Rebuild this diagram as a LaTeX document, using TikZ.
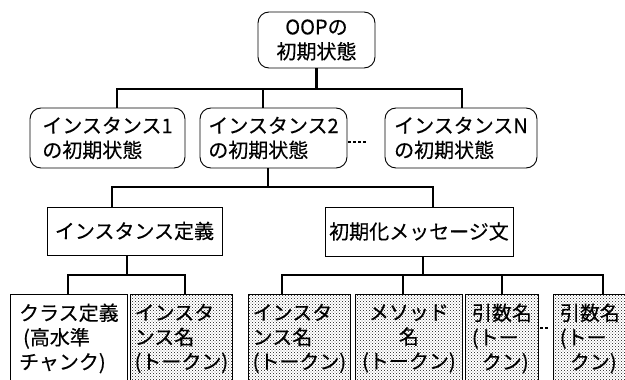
\documentclass[tikz,border=0pt]{standalone}
\usepackage{fontspec}
\newfontfamily\jpfont[FakeBold=0.3]{Noto Sans CJK JP}
\usetikzlibrary{patterns}
\pgfdeclarepatternformonly{finedots}{\pgfqpoint{-0.5pt}{-0.5pt}}{\pgfqpoint{3.5pt}{3.5pt}}{\pgfqpoint{3pt}{3pt}}{%
  \pgfpathrectangle{\pgfqpoint{0pt}{0pt}}{\pgfqpoint{0.9pt}{0.9pt}}%
  \pgfpathrectangle{\pgfqpoint{1.5pt}{1.5pt}}{\pgfqpoint{0.9pt}{0.9pt}}%
  \pgfusepath{fill}%
}
\begin{document}
\begin{tikzpicture}[x=1pt,y=-1pt,
  txt/.style={font=\jpfont\fontsize{20}{24.5}\selectfont, inner sep=0pt},
  rbox/.style={txt, draw, line width=0.9pt, rounded corners=11pt, align=left},
  sbox/.style={txt, draw, line width=0.9pt, align=center},
  leaf/.style={txt, draw, line width=0.8pt, minimum height=88pt, anchor=north west},
  stipleaf/.style={leaf, pattern=finedots, pattern color=black!75},
  conn/.style={line width=2.5pt, line join=miter},
  ellip/.style={line width=2.6pt, dash pattern=on 2.5pt off 2.5pt}]
\useasboundingbox (0,0) rectangle (625,380);
\clip (0,0) rectangle (625,380);

% level 1
\node[rbox, minimum width=117pt, minimum height=56pt, align=center] (top) at (316.5,40) {OOPの\\初期状態};
% level 2
\node[rbox, minimum width=155pt, minimum height=60pt] (i1) at (107.5,138) {インスタンス1\\の初期状態};
\node[rbox, minimum width=147pt, minimum height=60pt] (i2) at (273.5,138) {インスタンス2\\の初期状態};
\node[rbox, minimum width=152pt, minimum height=60pt] (iN) at (461,138) {インスタンスN\\の初期状態};
% level 3
\node[sbox, minimum width=175pt, minimum height=48pt] (def) at (134.5,231) {インスタンス定義};
\node[sbox, minimum width=188pt, minimum height=49pt] (msg) at (419,231.5) {初期化メッセージ文};
% level 4
\node[leaf, minimum width=117pt, align=left] (cls) at (10,294) {クラス定義\\\hspace{4pt}(高水準\\チャンク)};
\node[stipleaf, minimum width=102pt, align=left] (inm1) at (130,294) {インスタ\\ンス名\\(トークン)};
\node[stipleaf, minimum width=102pt, align=left] (inm2) at (248,294) {インスタ\\ンス名\\(トークン)};
\node[stipleaf, minimum width=107pt, align=center] (mth) at (355,294) {メソッド\\名\\(トークン)};
\node[stipleaf, minimum width=73pt, align=left] (arg1) at (465,294) {引数名\\(トー\\\hspace{10pt}クン)};
\node[stipleaf, minimum width=73pt, align=left] (argN) at (553,294) {引数名\\(トー\\\hspace{10pt}クン)};

% connectors level 1 -> 2
\coordinate (t1) at (117,89);
\coordinate (t2) at (263,89);
\coordinate (t3) at (462,89);
\draw[conn] (top.south) -- (top.south |- t1);
\draw[conn] (i1.north -| t1) -- (t1) -- (t3) -- (iN.north -| t3);
\draw[conn] (t2) -- (i2.north -| t2);

% level 2 -> 3
\coordinate (u0) at (268,187);
\coordinate (u1) at (112,187);
\coordinate (u2) at (433,187);
\draw[conn] (i2.south -| u0) -- (u0);
\draw[conn] (def.north -| u1) -- (u1) -- (u2) -- (msg.north -| u2);

% level 3 -> 4 (left)
\coordinate (v0) at (127,275);
\coordinate (v1) at (68,275);
\coordinate (v2) at (185,275);
\draw[conn] (def.south -| v0) -- (v0);
\draw[conn] (cls.north -| v1) -- (v1) -- (v2) -- (inm1.north -| v2);

% level 3 -> 4 (right)
\coordinate (w0) at (423,275);
\coordinate (w1) at (282,275);
\coordinate (w2) at (403,275);
\coordinate (w3) at (502,275);
\coordinate (w4) at (603,275);
\draw[conn] (msg.south -| w0) -- (w0);
\draw[conn] (inm2.north -| w1) -- (w1) -- (w4) -- (argN.north -| w4);
\draw[conn] (w2) -- (mth.north -| w2);
\draw[conn] (w3) -- (arg1.north -| w3);

% ellipses
\coordinate (e1a) at (348,142);
\coordinate (e1b) at (367,142);
\draw[ellip] (e1a) -- (e1b);
\coordinate (e2a) at (540,328);
\coordinate (e2b) at (549,328);
\draw[ellip] (e2a) -- (e2b);
\end{tikzpicture}
\end{document}
